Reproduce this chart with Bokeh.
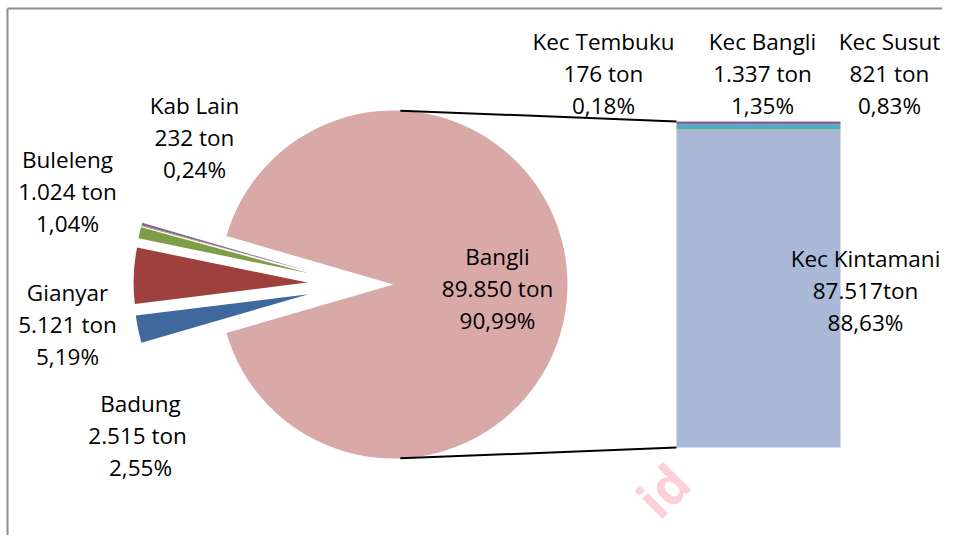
import math
from bokeh.plotting import figure
from bokeh.models import Range1d, ColumnDataSource
from bokeh.core.properties import value
from bokeh.embed import file_html
from bokeh.resources import INLINE

# ---------------- data ----------------
pie_names = ["Bangli", "Kab Lain", "Buleleng", "Gianyar", "Badung"]
pie_tons = [89850, 232, 1024, 5121, 2515]
pie_ton_labels = ["89.850 ton", "232 ton", "1.024 ton", "5.121 ton", "2.515  ton"]
pie_pct_labels = ["90,99%", "0,24%", "1,04%", "5,19%", "2,55%"]
pie_colors = ["#D9A9A8", "#8064A2", "#7F9D47", "#9E413E", "#3F689D"]

bar_names = ["Kec Kintamani", "Kec Tembuku", "Kec Bangli", "Kec Susut"]
bar_tons = [87517, 176, 1337, 821]
bar_ton_labels = ["87.517ton", "176 ton", "1.337 ton", "821 ton"]
bar_pct_labels = ["88,63%", "0,18%", "1,35%", "0,83%"]
bar_colors = ["#AAB9D7", "#9BBB59", "#4BACC6", "#8064A2"]

# ---------------- layout ----------------
W, H = 942, 535


def sy(v):
    return H - v


p = figure(width=W, height=H, output_backend="svg", toolbar_location=None,
           x_range=Range1d(0, W), y_range=Range1d(0, H),
           x_axis_location=None, y_axis_location=None, min_border=0)
p.grid.visible = False
p.outline_line_color = None
p.background_fill_color = "white"
p.border_fill_color = "white"

# pie
cx, cy, r = 393, sy(284), 174
total = sum(pie_tons)
fr = [t / total for t in pie_tons]
g = math.pi * (1 - fr[0])
p.wedge(x=cx, y=cy, radius=r, start_angle=-(math.pi - g), end_angle=math.pi - g,
        direction="anticlock", fill_color=pie_colors[0], line_color=None)

group_shift, explode = -38, 48
a0 = math.pi - g
xs, ys, st, en, cols = [], [], [], [], []
for i in range(1, len(pie_tons)):
    a1 = a0 + fr[i] * 2 * math.pi
    mid = (a0 + a1) / 2
    xs.append(cx + group_shift + explode * math.cos(mid))
    ys.append(cy + explode * math.sin(mid))
    st.append(a0)
    en.append(a1)
    cols.append(pie_colors[i])
    a0 = a1
src = ColumnDataSource(dict(x=xs, y=ys, s=st, e=en, c=cols))
p.wedge(x="x", y="y", radius=r, start_angle="s", end_angle="e", direction="anticlock",
        fill_color="c", line_color=None, source=src)
# thin olive edge on the smallest slice
p.wedge(x=xs[0], y=ys[0], radius=r, start_angle=en[0], end_angle=en[0] + 0.005,
        direction="anticlock", fill_color="#A8A85A", line_color=None)

# bar
bx0, bx1 = 676, 840
b_bot, b_top = sy(447), sy(121)
scale = (b_top - b_bot) / sum(bar_tons)
bottoms, tops = [], []
acc = 0
for t in bar_tons:
    bottoms.append(b_bot + acc * scale)
    acc += t
    tops.append(b_bot + acc * scale)
p.quad(left=bx0, right=bx1, bottom=bottoms, top=tops, fill_color=bar_colors, line_color=None)

# connector lines (tangents from bar corners to pie)
for (px, py, sign) in [(bx0, b_top, 1), (bx0, b_bot, -1)]:
    d = math.hypot(px - cx, py - cy)
    phi = math.atan2(py - cy, px - cx)
    alpha = math.acos(r / d)
    ang = phi + sign * alpha
    tx, ty = cx + r * math.cos(ang), cy + r * math.sin(ang)
    p.line(x=[tx, px], y=[ty, py], line_color="black", line_width=2)

# chart border (left/top)
p.line(x=[7, 7], y=[0, sy(8)], line_color="#8C8C8C", line_width=2)
p.line(x=[7, W], y=[sy(8), sy(8)], line_color="#8C8C8C", line_width=2)

# labels
label_pos = {
    "Bangli": (497, 288), "Kab Lain": (194, 137), "Buleleng": (67, 191),
    "Gianyar": (67, 324), "Badung": (140, 435),
    "Kec Kintamani": (865, 290), "Kec Tembuku": (603, 73),
    "Kec Bangli": (762, 73), "Kec Susut": (889, 73),
}
LH = 32
tx_, ty_, tt_ = [], [], []
for names, tl, pl in [(pie_names, pie_ton_labels, pie_pct_labels),
                      (bar_names, bar_ton_labels, bar_pct_labels)]:
    for n, t, pc in zip(names, tl, pl):
        x0, y0 = label_pos[n]
        for k, line in enumerate([n, t, pc]):
            tx_.append(x0)
            ty_.append(sy(y0 + (k - 1) * LH))
            tt_.append(line)
p.text(x=tx_, y=ty_, text=tt_, text_align="center", text_baseline="middle",
       text_font=value("Open Sans"), text_font_size="22.5px", text_color="black")

# watermark (visible part)
p.text(x=[679], y=[sy(472)], text=["id"], angle=math.pi / 4, text_align="right",
       text_baseline="middle", text_font=value("Open Sans"), text_font_style="bold",
       text_font_size="52px", text_color="#FCD0D8")

open("out.html", "w").write(file_html(p, INLINE))
